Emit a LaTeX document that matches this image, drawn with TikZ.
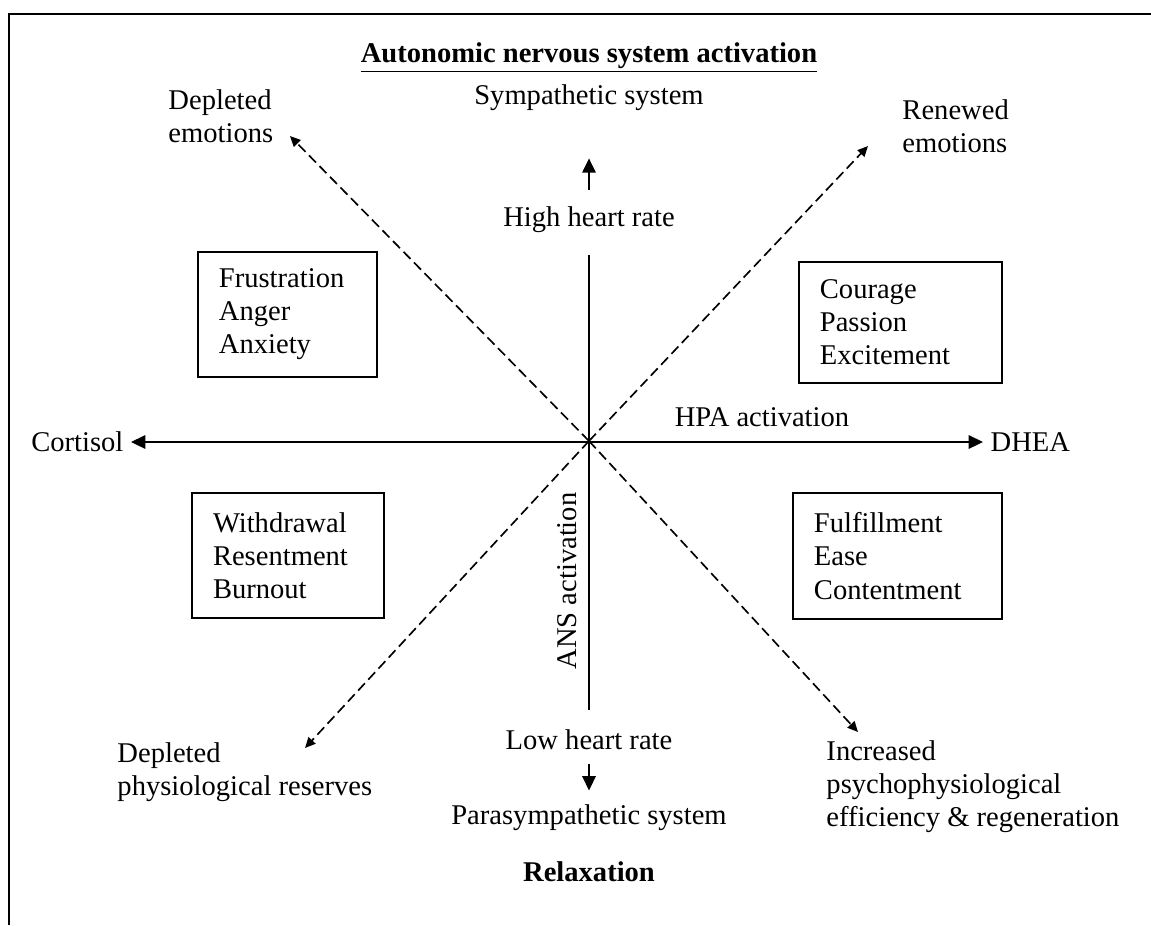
\documentclass[tikz,border=0pt]{standalone}
\usepackage{fontspec}
\setmainfont{Liberation Serif}
\usetikzlibrary{arrows.meta}

\begin{document}
\begin{tikzpicture}[x=0.42pt,y=-0.42pt,
  every node/.style={font=\fontsize{12}{13.9}\selectfont, inner sep=0pt},
  emobox/.style 2 args={draw, line width=0.84pt, align=left, inner xsep=8.8pt, inner ysep=0pt, text width=#1, minimum height=#2},
  axisline/.style={line width=0.84pt},
  bigtip/.style={-{Triangle[length=6pt,width=5.6pt]}},
  dashtip/.style={dash pattern=on 4.2pt off 2.1pt, line width=0.7pt, -{Triangle[length=4.4pt,width=4pt]}}]
  \useasboundingbox (0,0) rectangle (1151,925);
  \draw[line width=0.84pt] (9,925) -- (9,14) -- (1151,14);

  \node[font=\fontsize{12}{13.9}\selectfont\bfseries] (title) at (589,58) {\underline{Autonomic nervous system activation}};
  \node (symp) at (589,98) {Sympathetic system};
  \node (high) at (589,220) {High heart rate};
  \node[anchor=west, align=left] (depemo) at (168,116) {Depleted\\emotions};
  \node[anchor=west, align=left] (renemo) at (902,126) {Renewed\\emotions};

  \node[emobox={57.6pt}{52.5pt}] (frust) at (287.5,314.5) {Frustration\\Anger\\Anxiety};
  \node[emobox={67.7pt}{50.8pt}] (courage) at (900.5,322.5) {Courage\\Passion\\Excitement};
  \node[emobox={63pt}{52.5pt}] (withdr) at (288,555.5) {Withdrawal\\Resentment\\Burnout};
  \node[emobox={70.2pt}{52.9pt}] (fulfil) at (897.5,556) {Fulfillment\\Ease\\Contentment};

  \node[anchor=east, inner xsep=3pt] (cort) at (131,442) {Cortisol};
  \node (hpa) at (762,417) {HPA activation};
  \node[anchor=west, inner xsep=3pt] (dhea) at (983,442) {DHEA};
  \node[rotate=90] (ans) at (567,581) {ANS activation};

  \node (low) at (589,740) {Low heart rate};
  \node (para) at (589,818) {Parasympathetic system};
  \node[font=\fontsize{12}{13.9}\selectfont\bfseries] (relax) at (589,872) {Relaxation};
  \node[anchor=west, align=left] (depres) at (117,772) {Depleted\\physiological reserves};
  \node[anchor=west, align=left] (incr) at (826,787) {Increased\\psychophysiological\\efficiency \& regeneration};

  \coordinate (o) at (589,441);
  \coordinate (tl) at (290,136);
  \coordinate (tr) at (868,146);
  \coordinate (bl) at (305,748);
  \coordinate (br) at (858,732);

  \draw[axisline, {Triangle[length=6pt,width=5.6pt]}-{Triangle[length=6pt,width=5.6pt]}] (cort) -- (dhea);
  \draw[axisline, shorten <=9pt, shorten >=8pt] (high) -- (low);
  \draw[axisline, bigtip, shorten <=7pt, shorten >=19.7pt] (high) -- (symp);
  \draw[axisline, bigtip, shorten <=5.5pt, shorten >=5.9pt] (low) -- (para);

  \draw[dashtip] (o) -- (tl);
  \draw[dashtip] (o) -- (tr);
  \draw[dashtip] (o) -- (bl);
  \draw[dashtip] (o) -- (br);
\end{tikzpicture}
\end{document}
